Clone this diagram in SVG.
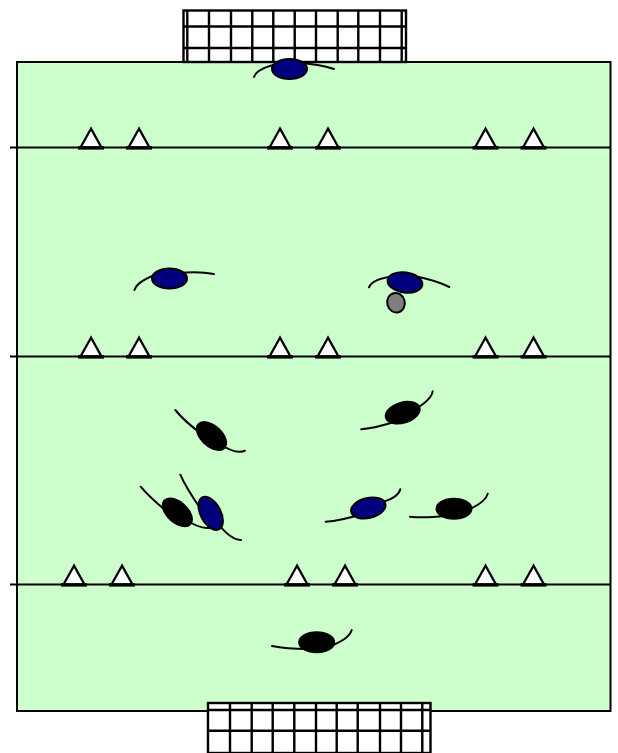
<svg xmlns="http://www.w3.org/2000/svg" width="618" height="753" viewBox="0 0 618 753">
<style>
.ln{fill:none;stroke:#000;stroke-width:2}
.net{fill:none;stroke:#000;stroke-width:2.4}
.tri{fill:#fff;stroke:#000;stroke-width:2.300}
.base{fill:none;stroke:#000;stroke-width:3.400}
.arm{fill:none;stroke:#000;stroke-width:2;stroke-linecap:round}
.blue{fill:#00007f;stroke:#000;stroke-width:2}
.black{fill:#000;stroke:#000;stroke-width:2}
.ball{fill:#7f7f7f;stroke:#000;stroke-width:2}
</style>
<defs>
<g id="t"><polygon class="tri" points="0,-18.800 -10.800,0.500 10.800,0.500"/><path class="base" d="M-13 0.300H13"/></g>
</defs>
<rect id="field" x="17" y="62" width="593.500" height="649" fill="#ccffcc" stroke="#000" stroke-width="2"/>
<g id="goal-top">
<rect x="183.500" y="10.500" width="222.500" height="51.500" fill="#fff" stroke="#000" stroke-width="2.400"/>
<path class="net" d="M187.300 10.500V62M209 10.500V62M231 10.500V62M252.300 10.500V62M273.300 10.500V62M294.700 10.500V62M316 10.500V62M337.700 10.500V62M358.300 10.500V62M380 10.500V62M401.700 10.500V62M183.500 26.500H406M183.500 48H406"/>
</g>
<g id="goal-bottom">
<rect x="208" y="703" width="222.500" height="50" fill="#fff" stroke="#000" stroke-width="2.400"/>
<path class="net" d="M230 703V753M251.700 703V753M272.700 703V753M294.300 703V753M316 703V753M336.700 703V753M357.700 703V753M380 703V753M401 703V753M422.300 703V753M208 710H430.500M208 730.700H430.500"/>
</g>
<g id="connectors">
<path class="ln" d="M10 147.500H610.500M10 356.500H610.500M10 584.500H610.500"/>
</g>
<g id="cones">
<use href="#t" x="91" y="147.500"/><use href="#t" x="139" y="147.500"/><use href="#t" x="280" y="147.500"/><use href="#t" x="328" y="147.500"/><use href="#t" x="485.500" y="147.500"/><use href="#t" x="533.500" y="147.500"/>
<use href="#t" x="91" y="356.500"/><use href="#t" x="139" y="356.500"/><use href="#t" x="280" y="356.500"/><use href="#t" x="328" y="356.500"/><use href="#t" x="485.500" y="356.500"/><use href="#t" x="533.500" y="356.500"/>
<use href="#t" x="74" y="584.500"/><use href="#t" x="122" y="584.500"/><use href="#t" x="297" y="584.500"/><use href="#t" x="345" y="584.500"/><use href="#t" x="485.500" y="584.500"/><use href="#t" x="533.500" y="584.500"/>
</g>
<g id="p1"><path class="arm" d="M254 77Q257 68 280 63.500M298 63Q319 64 334 69"/><ellipse class="blue" cx="289.500" cy="69" rx="17.500" ry="10"/></g>
<g id="p2"><path class="arm" d="M134.500 290Q137 281 160 273M178 273Q199 271 214 274"/><ellipse class="blue" cx="169.500" cy="278.500" rx="17.500" ry="10"/></g>
<g id="p3"><path class="arm" d="M369 287.300Q372 279 395 276M414 276Q435 280 449.300 287"/><ellipse class="blue" cx="405" cy="282.500" rx="17.500" ry="10" transform="rotate(8 405 282.500)"/></g>
<g id="ball"><ellipse class="ball" cx="396" cy="302.700" rx="8.800" ry="9.800" transform="rotate(-15 396 302.700)"/></g>
<g id="p4"><path class="arm" d="M361.300 429.300Q376 428 397 421M410 412Q431 401 432.700 391.300"/><ellipse class="black" cx="402.700" cy="412.700" rx="17.500" ry="10" transform="rotate(-17 402.700 412.700)"/></g>
<g id="p5"><path class="arm" d="M175.300 410Q185 422 203 435M218 443Q236 455 245 450.700"/><ellipse class="black" cx="211.500" cy="436" rx="17.500" ry="10" transform="rotate(42 211.500 436)"/></g>
<g id="p6"><path class="arm" d="M140.700 486.700Q151 499 170 514M183 518Q201 530 210 527.700"/><ellipse class="black" cx="177.300" cy="512.300" rx="17.500" ry="10" transform="rotate(42 177.300 512.300)"/></g>
<g id="p7"><path class="arm" d="M180.300 474.700Q187 490 205 515M215 520Q230 540 241 540"/><ellipse class="blue" cx="210.700" cy="513.300" rx="18" ry="10" transform="rotate(62 210.700 513.300)"/></g>
<g id="p8"><path class="arm" d="M325.700 521.700Q340 521 362 514M375 504Q398 499 400.300 489.300"/><ellipse class="blue" cx="368.300" cy="508" rx="17.500" ry="10" transform="rotate(-13 368.300 508)"/></g>
<g id="p9"><path class="arm" d="M410 516.700Q423 518 446 516M460 513Q485 504 487.700 493.700"/><ellipse class="black" cx="454" cy="508.700" rx="17.500" ry="10"/></g>
<g id="p10"><path class="arm" d="M272 646Q286 649 308 649M325 648Q349 640 351.700 630"/><ellipse class="black" cx="316.700" cy="642.300" rx="17.500" ry="10"/></g>
</svg>
